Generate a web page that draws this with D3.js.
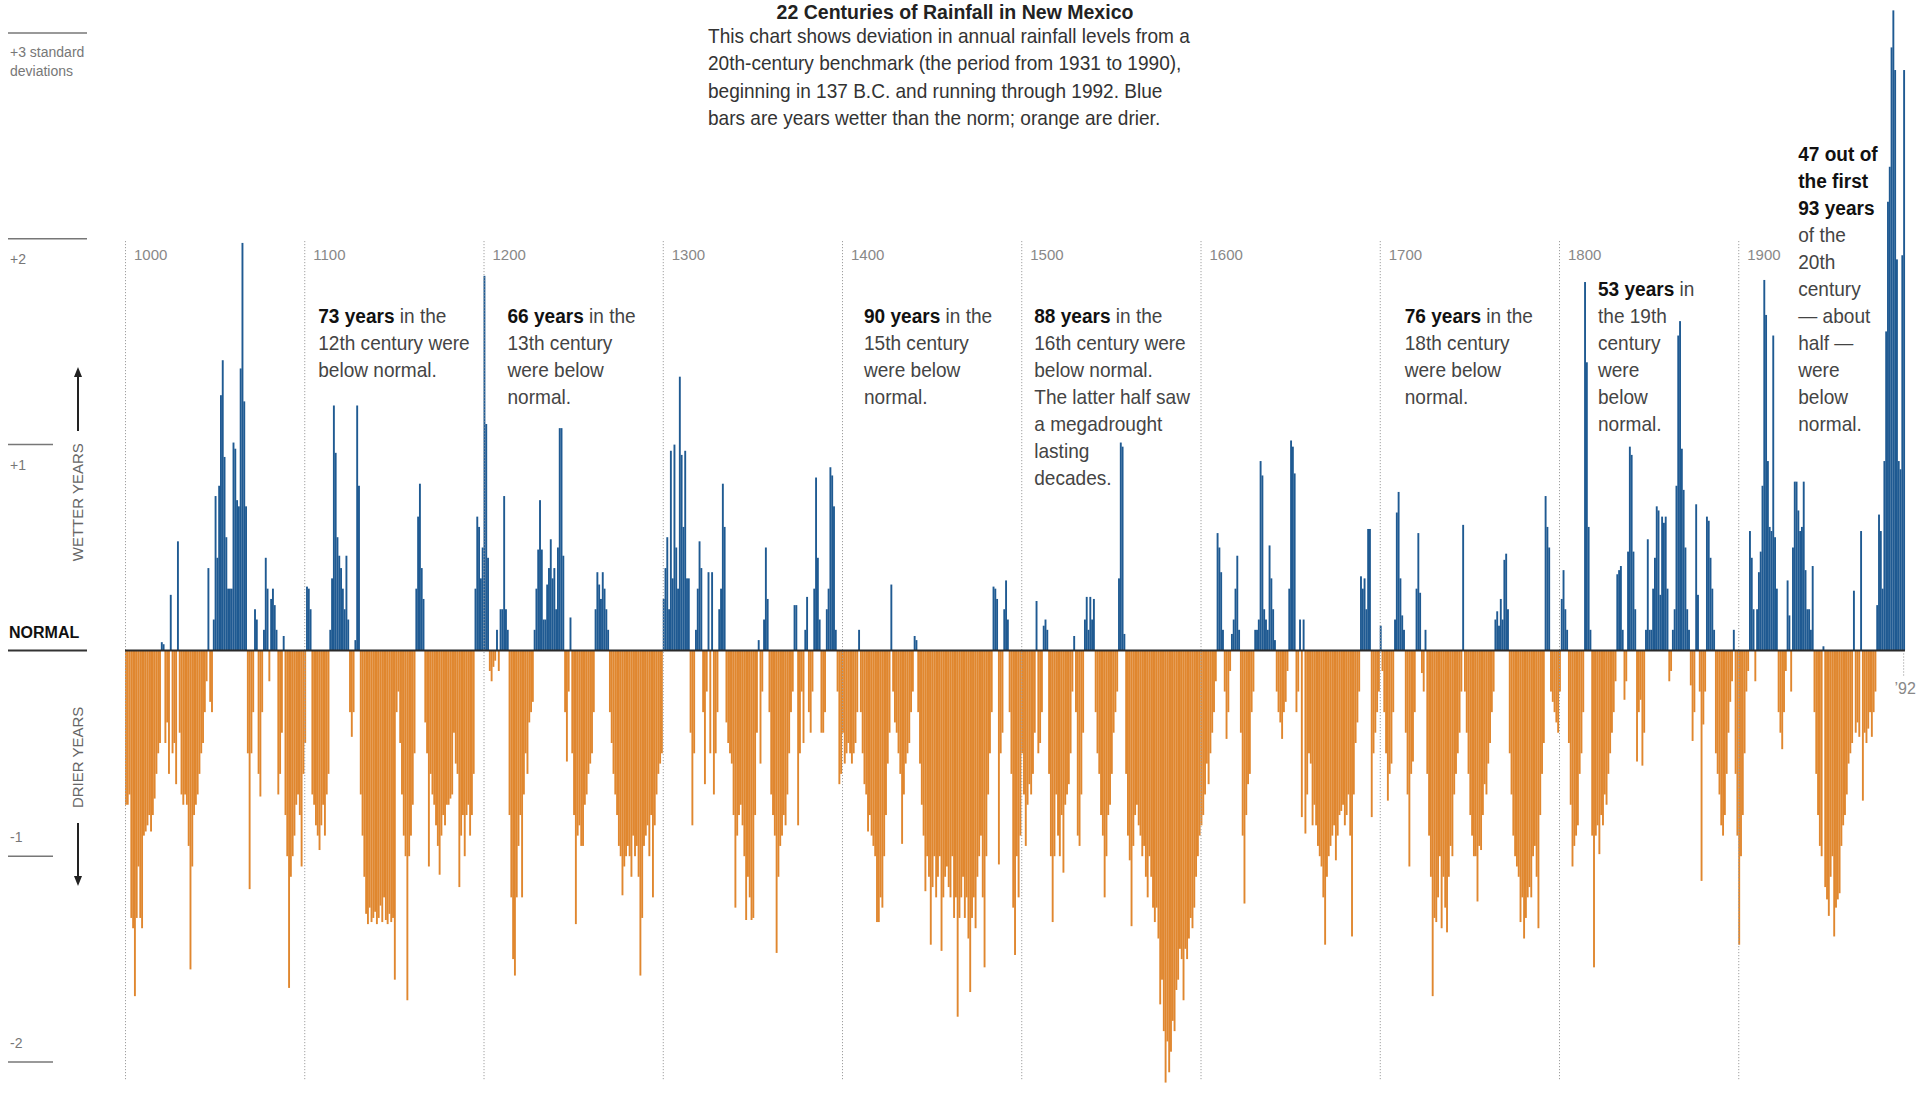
<!DOCTYPE html>
<html><head><meta charset="utf-8">
<script src="https://cdn.jsdelivr.net/npm/d3@7/dist/d3.min.js"></script>
<style>
html,body{margin:0;padding:0;background:#fff;}
svg{display:block;}
</style></head><body>
<svg id="chart" width="1925" height="1095"></svg>
<script>
// ---------------- DATA ----------------
const firstYear = 1000;
// Deviation from 1931-1990 norm, in standard deviations, one value per year
const c1000 = [
-0.75,-0.75,-0.7,-1.3,-1.35,-1.68,-1.3,-1.05,-1.3,-1.35,
-0.9,-0.88,-0.85,-0.8,-0.88,-0.8,-0.72,-0.6,-0.5,-0.45,
0.04,0.03,-0.45,-0.35,-0.6,0.27,-0.5,-0.45,-0.65,0.53,
-0.4,-0.7,-0.75,-0.7,-0.75,-0.95,-1.55,-1.05,-0.8,-0.75,
-0.7,-0.6,-0.5,-0.45,-0.3,-0.15,0.4,-0.25,-0.3,0.15,
0.75,0.45,0.8,1.24,1.41,0.94,0.55,0.3,0.3,0.3,
1.01,0.98,0.73,0.7,1.37,1.98,1.21,0.7,-0.5,-1.16,
-0.5,-0.3,0.2,0.15,-0.6,-0.71,-0.3,0.1,0.45,0.3,
-0.15,0.25,0.3,0.22,0.1,-0.7,-0.6,-0.4,0.07,-0.8,
-1.0,-1.64,-1.1,-1.0,-0.9,-0.75,-0.7,-0.8,-1.05,-0.6
];
const c1100 = [
-0.45,0.31,0.3,0.2,-0.7,-0.75,-0.85,-0.9,-0.97,-0.85,
-0.75,-0.9,-0.7,-0.6,0.1,0.35,1.19,0.96,0.55,0.46,
0.4,0.3,0.2,0.46,0.15,-0.3,-0.42,-0.3,0.05,1.19,
0.8,-0.7,-0.9,-1.1,-1.28,-1.33,-1.25,-1.32,-1.3,-1.27,
-1.33,-1.3,-1.24,-1.32,-1.2,-1.31,-1.33,-1.28,-1.32,-1.3,
-1.6,-0.3,-0.2,-0.45,-0.7,-0.9,-1.0,-1.7,-1.0,-0.9,
-0.75,-0.5,0.3,0.65,0.81,0.4,0.25,-0.35,-0.5,-1.05,
-0.6,-0.7,-0.75,-0.85,-0.95,-1.09,-0.9,-0.8,-0.85,-0.75,
-0.75,-0.72,-0.7,-0.4,-0.55,-0.6,-1.15,-0.9,-0.8,-1.0,
-0.8,-0.75,-0.9,-0.8,-0.6,0.3,0.65,0.6,0.35,0.5
];
const c1200 = [
1.82,1.1,0.45,-0.1,-0.15,-0.08,-0.05,0.1,-0.1,0.2,
0.2,0.75,0.2,0.1,-0.8,-1.2,-1.5,-1.58,-1.2,-0.95,
-0.8,-1.2,-0.7,-0.5,-0.6,-0.35,-0.3,-0.25,0.1,0.3,
0.49,0.73,0.49,0.15,0.15,0.32,0.4,0.54,0.35,0.4,
0.2,0.5,1.08,1.08,0.46,-0.3,-0.54,-0.2,0.16,-0.5,
-0.8,-1.33,-0.9,-0.85,-0.95,-0.95,-0.75,-0.7,-0.6,-0.55,
-0.5,-0.3,0.2,0.38,0.32,0.25,0.38,0.3,0.2,0.1,
-0.3,-0.45,-0.6,-0.7,-0.8,-0.95,-1.0,-1.19,-1.05,-1.0,
-0.95,-1.0,-1.1,-0.9,-1.0,-0.95,-1.1,-1.58,-1.3,-0.95,
-0.9,-0.85,-1.0,-0.8,-1.2,-0.85,-0.7,-0.6,-0.55,-0.5
];
const c1300 = [
0.25,0.4,0.55,0.2,0.97,0.35,1.0,0.5,0.3,1.33,
0.95,0.6,0.97,0.35,0.35,-0.4,-0.85,-0.5,0.1,0.3,
0.53,0.4,-0.3,-0.65,-0.2,0.38,-0.5,0.38,-0.7,-0.5,
-0.3,0.2,0.3,0.81,0.6,-0.35,-0.45,-0.5,-0.55,-0.8,
-1.25,-0.9,-0.8,-0.75,-0.85,-1.0,-1.31,-1.1,-1.2,-1.31,
-1.3,-0.8,-0.4,0.05,-0.55,-0.2,0.15,0.5,0.25,-0.3,
-0.7,-0.8,-0.9,-1.47,-1.1,-0.95,-0.9,-0.8,-0.85,-0.7,
-0.5,-0.3,-0.2,0.22,0.22,-0.85,-0.5,-0.2,-0.45,0.1,
0.26,-0.3,-0.4,-0.2,0.3,0.84,0.45,0.15,-0.4,-0.4,
-0.3,0.2,0.3,0.89,0.85,0.7,0.1,-0.2,-0.65,-0.6
];
const c1400 = [
-0.4,-0.55,-0.5,-0.45,-0.5,-0.55,-0.5,-0.45,-0.3,0.1,
-0.3,-0.5,-0.65,-0.7,-0.88,-0.8,-0.9,-0.95,-1.0,-1.32,
-1.32,-1.2,-1.25,-1.0,-0.8,-0.55,-0.4,0.32,-0.2,-0.35,
-0.4,-0.5,-0.6,-0.94,-0.7,-0.55,-0.5,-0.45,-0.3,-0.2,
0.07,0.05,-0.3,-0.55,-0.75,-0.9,-1.17,-1.0,-1.1,-1.43,
-1.15,-1.0,-1.2,-1.1,-1.0,-1.46,-1.2,-1.1,-1.05,-1.15,
-1.2,-1.0,-1.3,-1.2,-1.78,-1.3,-1.2,-1.1,-1.3,-1.2,
-1.4,-1.66,-1.3,-1.2,-1.35,-1.1,-1.0,-0.9,-1.2,-1.54,
-1.0,-0.7,-0.5,-0.3,0.31,0.3,0.25,-1.04,-0.5,-0.4,
0.2,0.34,0.15,-0.3,-0.6,-1.25,-1.48,-1.0,-1.2,-0.9
];
const c1500 = [
-0.5,-0.7,-0.95,-0.75,-0.65,-0.7,-0.6,-0.4,0.24,-0.5,
-0.45,-0.3,0.12,0.15,0.1,-0.6,-1.0,-1.32,-1.0,-0.7,
-0.9,-1.0,-0.8,-1.08,-0.75,-0.7,-0.65,-0.5,-0.2,0.07,
-0.3,-0.9,-0.95,-0.7,-0.4,0.15,0.26,0.1,0.26,0.15,
0.25,-0.3,-0.5,-0.6,-0.8,-0.9,-1.2,-1.0,-0.8,-0.75,
-0.6,-0.4,-0.3,-0.2,0.35,1.01,0.99,0.08,-0.6,-0.9,
-1.02,-1.34,-0.95,-0.8,-0.75,-0.85,-0.9,-1.0,-0.95,-1.1,
-1.2,-1.0,-1.1,-1.25,-1.32,-1.25,-1.4,-1.72,-1.6,-1.85,
-2.1,-1.9,-2.05,-1.95,-1.8,-1.85,-1.65,-1.6,-1.45,-1.5,
-1.7,-1.45,-1.5,-1.4,-1.3,-1.35,-1.25,-1.1,-1.0,-0.9
];
const c1600 = [
-0.85,-0.8,-0.7,-0.55,-0.65,-0.5,-0.4,-0.3,-0.15,0.57,
0.5,0.38,0.1,-0.2,-0.43,-0.3,-0.1,0.08,0.15,0.3,
0.46,0.1,-0.4,-0.9,-1.23,-0.8,-0.65,-0.6,-0.3,-0.2,
0.1,0.1,0.15,0.92,0.85,0.2,0.15,0.1,0.51,0.35,
0.2,0.05,-0.2,-0.3,-0.35,-0.43,-0.3,-0.25,-0.1,0.3,
1.02,0.99,0.86,-0.3,-0.2,0.15,-0.81,0.15,-0.89,-0.7,
-0.5,-0.55,-0.85,-0.75,-0.85,-0.95,-1.0,-1.05,-1.2,-1.43,
-1.1,-1.0,-0.95,-0.9,-0.85,-1.02,-0.9,-0.8,-0.78,-0.75,
-0.85,-0.8,-0.7,-0.9,-1.39,-0.7,-0.45,-0.35,-0.2,0.36,
0.3,0.35,0.2,0.59,0.59,-0.81,-0.5,-0.4,-0.3,-0.2
];
const c1700 = [
0.12,-0.1,-0.3,-0.5,-0.73,-0.6,-0.55,-0.3,0.15,0.67,
0.77,0.35,0.17,0.1,-0.4,-0.7,-1.05,-0.6,-0.54,-0.3,
0.3,0.57,0.28,-0.11,-0.2,0.1,-0.6,-0.9,-1.1,-1.68,
-1.3,-1.32,-1.2,-1.0,-1.35,-1.1,-1.25,-1.37,-1.1,-0.95,
-1.0,-0.7,-0.6,-0.5,-0.4,-0.2,0.61,-0.2,-0.4,-0.6,
-0.8,-0.9,-1.0,-1.0,-1.22,-0.95,-0.97,-0.8,-0.65,-0.7,
-0.55,-0.45,-0.3,-0.2,0.15,0.19,0.12,0.25,0.15,0.44,
0.47,0.2,-0.5,-0.7,-0.9,-1.0,-1.05,-1.1,-1.32,-1.2,
-1.4,-1.3,-1.2,-1.15,-1.2,-1.0,-0.95,-1.1,-1.35,-0.8,
-0.6,-0.45,0.75,0.6,0.5,-0.2,-0.25,-0.3,-0.35,-0.4
];
const c1800 = [
-0.2,0.25,0.39,0.2,0.1,-0.45,-0.75,-1.05,-0.95,-0.9,
-0.85,-0.6,-0.5,-0.3,1.79,1.4,0.6,0.1,-0.9,-1.54,
-0.9,-0.85,-0.99,-0.8,-0.85,-0.7,-0.75,-0.6,-0.5,-0.4,
-0.3,-0.15,0.37,0.39,0.41,0.1,-0.24,-0.15,0.48,0.99,
0.95,0.48,0.2,-0.54,-0.3,-0.24,-0.56,-0.4,0.1,0.54,
0.1,0.1,0.3,0.45,0.7,0.68,0.27,0.65,0.62,0.65,
0.3,-0.15,-0.1,0.1,0.2,0.8,1.53,1.6,0.98,0.78,
0.5,0.2,0.1,-0.17,-0.44,-0.3,0.71,0.27,-0.2,-1.12,
-0.36,-0.2,0.65,0.63,0.45,0.3,0.1,-0.5,-0.6,-0.7,
-0.85,-0.9,-0.8,-0.6,-0.4,-0.25,-0.15,0.1,-0.6,-0.9
];
const c1900 = [
-1.43,-1.0,-0.8,-0.5,-0.2,-0.1,0.58,0.45,0.2,-0.15,
0.2,0.38,0.48,0.8,1.8,1.63,0.92,0.6,0.58,1.53,
0.55,0.3,-0.3,-0.4,-0.48,-0.3,-0.1,0.34,0.17,-0.2,
0.5,0.82,0.82,0.68,0.58,0.6,0.82,0.39,0.2,0.2,
0.1,0.41,-0.3,-0.6,-0.8,-0.95,-1.0,0.02,-1.15,-1.21,
-1.29,-1.1,-1.0,-1.39,-1.25,-1.21,-1.18,-0.95,-0.85,-0.8,
-0.7,-0.55,-0.5,-0.45,0.29,-0.4,-0.35,-0.42,0.58,-0.73,
-0.4,-0.45,-0.38,-0.3,-0.42,-0.3,-0.2,0.22,0.66,0.58,
0.3,0.92,1.55,2.18,2.35,2.93,3.11,2.82,1.9,0.92,
0.88,1.92,2.82
];
const centuryTicks = [1000,1100,1200,1300,1400,1500,1600,1700,1800,1900];
const endYear = 1992;
const endLabel = "\u201992";
const yTickValues = [3, 2, 1, 0, -1, -2];
const yTickLabels = [["+3 standard","deviations"],["+2"],["+1"],["NORMAL"],["-1"],["-2"]];
const titleText = "22 Centuries of Rainfall in New Mexico";
const introLines = [
  "This chart shows deviation in annual rainfall levels from a",
  "20th-century benchmark (the period from 1931 to 1990),",
  "beginning in 137 B.C. and running through 1992. Blue",
  "bars are years wetter than the norm; orange are drier."
];
const noteYears = [1100, 1200, 1400, 1500, 1700, 1800, 1900];
const noteTexts = [
  [["73 years"," in the"],["","12th century were"],["","below normal."]],
  [["66 years"," in the"],["","13th century"],["","were below"],["","normal."]],
  [["90 years"," in the"],["","15th century"],["","were below"],["","normal."]],
  [["88 years"," in the"],["","16th century were"],["","below normal."],["","The latter half saw"],["","a megadrought"],["","lasting"],["","decades."]],
  [["76 years"," in the"],["","18th century"],["","were below"],["","normal."]],
  [["53 years"," in"],["","the 19th"],["","century"],["","were"],["","below"],["","normal."]],
  [["47 out of",""],["the first",""],["93 years",""],["","of the"],["","20th"],["","century"],["","\u2014 about"],["","half \u2014"],["","were"],["","below"],["","normal."]]
];

// ---------------- LAYOUT / STYLE ----------------
const blue = "#1f5a92", orange = "#e0872f";
const FONT = "'Liberation Sans',Arial,sans-serif";
const SQUEEZE = 0.93;   // horizontal condensation of body text
const noteLayout = { // x offset from century line, first baseline
  1100:{dx:14, y:323}, 1200:{dx:24, y:323}, 1400:{dx:22, y:323}, 1500:{dx:13, y:323},
  1700:{dx:25, y:323}, 1800:{dx:39, y:296}, 1900:{dx:60, y:161}
};

const values = [].concat(c1000,c1100,c1200,c1300,c1400,c1500,c1600,c1700,c1800,c1900);
const years = d3.range(values.length).map(i => firstYear + i);
const yearStep = 1.7925;

const svg = d3.select("#chart");
const x = d3.scaleBand().domain(years).range([125, 125 + years.length * yearStep]).padding(0);
const y = d3.scaleLinear().domain([-2, 3]).range([1062, 33]);

// Title
svg.append("text").attr("transform", `translate(955,19) scale(${SQUEEZE},1)`).attr("text-anchor","middle")
  .attr("font-family", FONT).attr("font-weight","bold")
  .attr("font-size", 21).attr("fill","#222").text(titleText);

// Intro paragraph
const intro = svg.append("g").attr("transform", `translate(708,0) scale(${SQUEEZE},1)`);
intro.selectAll("text").data(introLines).join("text")
  .attr("x", 0).attr("y", (d,i) => 43 + i*27.3)
  .attr("font-family", FONT).attr("font-size", 20.5).attr("fill", "#333")
  .text(d => d);

// Bars
svg.append("g").selectAll("rect").data(years).join("rect")
  .attr("x", d => x(d))
  .attr("width", x.bandwidth() + 0.1)
  .attr("y", (d,i) => values[i] >= 0 ? y(values[i]) : y(0))
  .attr("height", (d,i) => Math.abs(y(values[i]) - y(0)))
  .attr("fill", (d,i) => values[i] >= 0 ? blue : orange);

// Century gridlines + labels
const grid = svg.append("g");
grid.selectAll("line").data(centuryTicks).join("line")
  .attr("x1", d => x(d) + 0.5).attr("x2", d => x(d) + 0.5)
  .attr("y1", 241).attr("y2", 1080)
  .attr("stroke", "#a0a0a0").attr("stroke-width", 1).attr("stroke-dasharray","1.2,1.8");
grid.selectAll("text").data(centuryTicks).join("text")
  .attr("x", d => x(d) + 9).attr("y", 260)
  .attr("font-family", FONT).attr("font-size", 15).attr("fill", "#888")
  .text(d => d);

// Zero baseline
svg.append("line").attr("x1", x(firstYear)).attr("x2", x(endYear) + x.bandwidth())
  .attr("y1", y(0)).attr("y2", y(0)).attr("stroke", "#2a2a2a").attr("stroke-width", 2);

// '92 end marker
svg.append("line").attr("x1", x(endYear) + 0.5).attr("x2", x(endYear) + 0.5)
  .attr("y1", y(0) + 3).attr("y2", y(0) + 27)
  .attr("stroke", "#a0a0a0").attr("stroke-dasharray","1.2,1.8");
svg.append("text").attr("x", x(endYear) + 2).attr("y", y(0) + 44).attr("text-anchor","middle")
  .attr("font-family", FONT).attr("font-size", 16).attr("fill", "#888").text(endLabel);

// Left axis
const axis = svg.append("g");
yTickValues.forEach((v, i) => {
  const long = (v === 3 || v === 2 || v === 0);
  const yy = y(v);
  axis.append("line").attr("x1", 8).attr("x2", long ? 87 : 53)
    .attr("y1", yy).attr("y2", yy)
    .attr("stroke", v === 0 ? "#333" : "#777").attr("stroke-width", v === 0 ? 2 : 1.5);
  const lines = yTickLabels[i];
  lines.forEach((t, j) => {
    let ty;
    if (v > 0) ty = yy + (v === 3 ? 24 : 25) + j*19;
    else if (v === 0) ty = yy - 12;
    else ty = yy - 14;
    axis.append("text").attr("x", v === 0 ? 9 : 10).attr("y", ty)
      .attr("font-family", FONT)
      .attr("font-weight", v === 0 ? "bold" : "normal")
      .attr("font-size", v === 0 ? 16 : 14)
      .attr("fill", v === 0 ? "#111" : "#777")
      .text(t);
  });
});

// Wetter / drier labels with arrows
function vText(txt, cx, cy) {
  svg.append("text").attr("transform", `translate(${cx},${cy}) rotate(-90)`)
    .attr("text-anchor","middle").attr("font-family", FONT)
    .attr("font-size", 15).attr("fill", "#666").text(txt);
}
vText("WETTER YEARS", 83, y(0.72));
vText("DRIER YEARS", 83, y(-0.52));
function arrow(x0, yFrom, yTo) {
  const dir = yTo < yFrom ? -1 : 1;
  svg.append("line").attr("x1", x0).attr("x2", x0).attr("y1", yFrom).attr("y2", yTo - dir*8)
    .attr("stroke", "#222").attr("stroke-width", 2);
  svg.append("path").attr("d", `M${x0-4},${yTo - dir*10} L${x0+4},${yTo - dir*10} L${x0},${yTo} Z`)
    .attr("fill", "#222");
}
arrow(78, 431, 367);
arrow(78, 823, 886);

// Annotations
noteYears.forEach((yr, k) => {
  const L = noteLayout[yr];
  const g = svg.append("g").attr("transform", `translate(${x(yr) + L.dx},0) scale(${SQUEEZE},1)`);
  const t = g.append("text").attr("font-family", FONT).attr("font-size", 20.5);
  noteTexts[k].forEach((ln, j) => {
    const line = t.append("tspan").attr("x", 0).attr("y", L.y + j*27);
    if (ln[0]) line.append("tspan").attr("font-weight","bold").attr("fill","#111").text(ln[0]);
    if (ln[1]) line.append("tspan").attr("fill","#444").text(ln[1]);
  });
});
</script>
</body></html>
